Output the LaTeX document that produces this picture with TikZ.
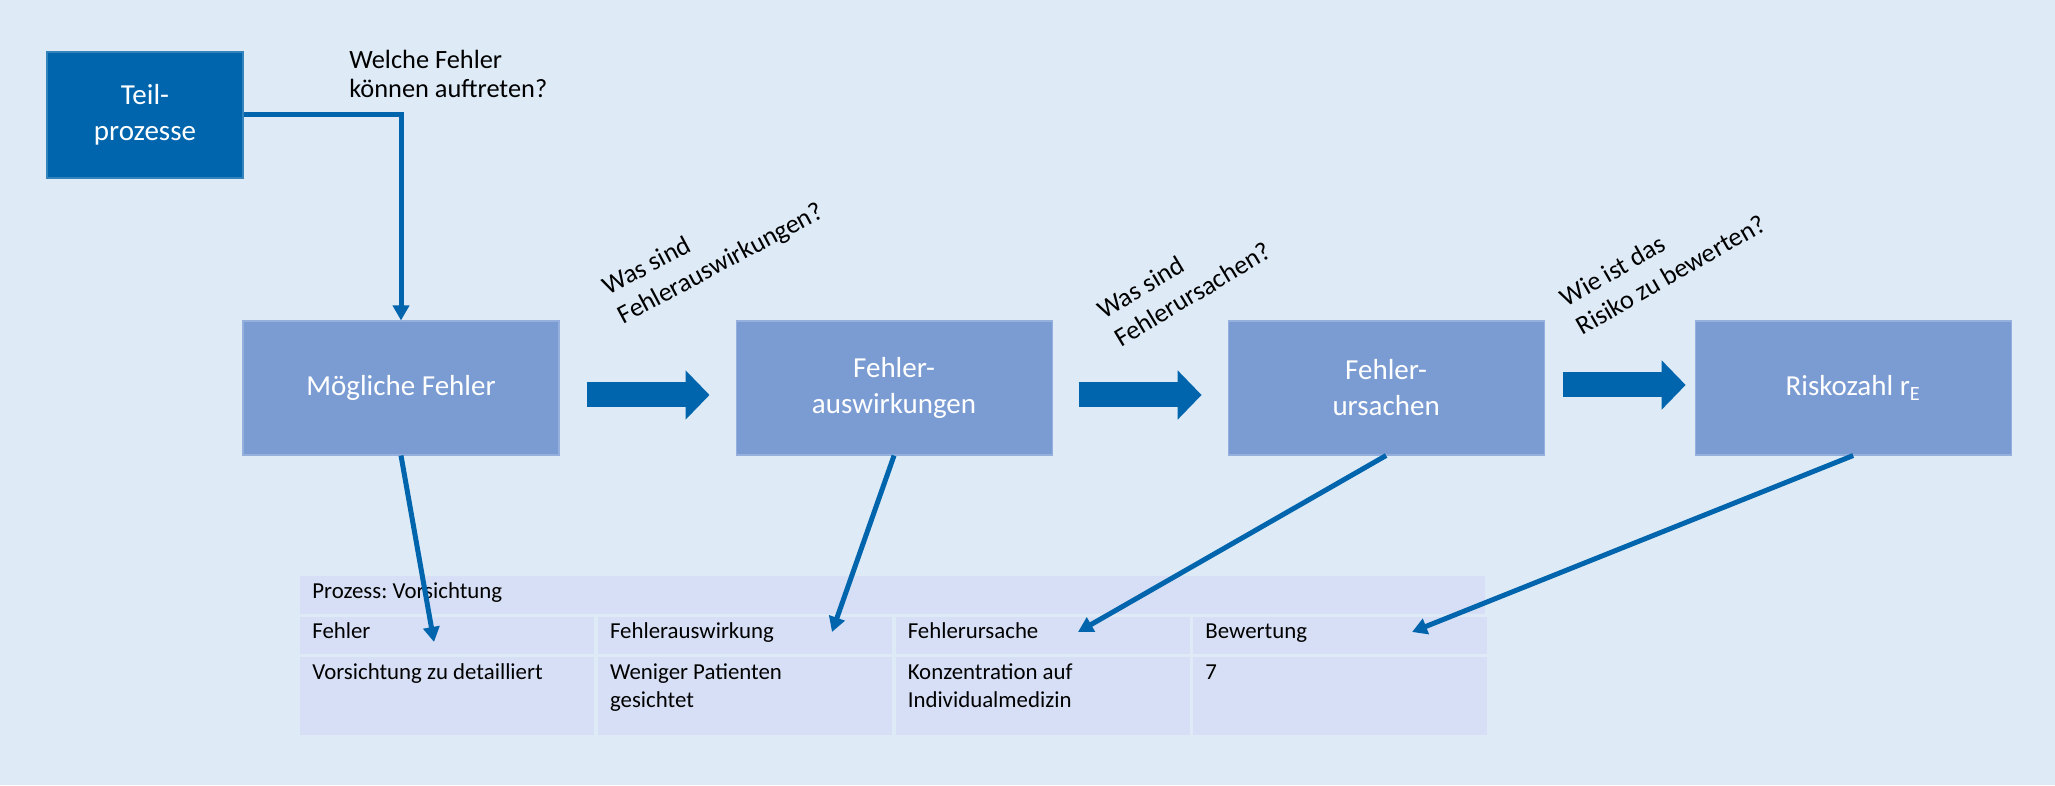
\documentclass[tikz,border=0pt]{standalone}
\usepackage{fontspec}
\setmainfont{Carlito}
\usetikzlibrary{positioning, calc, arrows.meta}

\definecolor{bgblue}{RGB}{222,235,247}
\definecolor{boxblue}{RGB}{123,156,211}
\definecolor{darkblue}{RGB}{0,101,173}
\definecolor{cellblue}{RGB}{214,223,245}

\tikzset{
  stepbox/.style={fill=boxblue, draw=boxblue!80!white, line width=0.6pt, text=white,
    minimum width=6.32cm, minimum height=2.68cm, align=center,
    font=\fontsize{16.5}{20.5}\selectfont},
  startbox/.style={fill=darkblue, draw=darkblue!80!white, line width=0.6pt, text=white,
    minimum width=3.92cm, minimum height=2.52cm, align=center,
    font=\fontsize{16.5}{20.5}\selectfont},
  question/.style={inner sep=0pt, align=left, font=\fontsize{15}{18.5}\selectfont},
  flow/.style={draw=darkblue, line width=0.1cm, -{Triangle[width=0.32cm,length=0.3cm]}},
  bigarrow/.style={draw=darkblue, line width=0.5cm, -{Triangle[width=0.96cm,length=0.48cm]}},
  cell/.style={fill=cellblue, inner sep=0pt, minimum width=5.88cm},
  celltext/.style={anchor=base west, inner sep=0pt, align=left,
    font=\fontsize{13}{16}\selectfont}
}

\begin{document}
\frenchspacing
\begin{tikzpicture}
% background
\fill[bgblue] (0,0) rectangle (41.1,15.7);
\useasboundingbox (0,0) rectangle (41.1,15.7);

% process chain
\node[startbox] (teil) at (2.90,13.40) {Teil-\\prozesse};
\node[stepbox] (moegl) at (8.02,7.94) {Mögliche Fehler};
\node[stepbox, right=3.52cm of moegl] (ausw) {Fehler-\\auswirkungen};
\node[stepbox, right=3.50cm of ausw] (urs) {Fehler-\\ursachen};
\node[stepbox, right=3.00cm of urs] (risk) {Riskozahl r\textsubscript{E}};

\draw[flow] (teil.east) -| (moegl.north);
\node[question, anchor=west, font=\fontsize{15}{16.5}\selectfont] (q0) at (6.98,14.22) {Welche Fehler\\können auftreten?};

\draw[bigarrow, shorten <=0.54cm, shorten >=0.52cm] ([yshift=-0.14cm]moegl.east) -- ([yshift=-0.14cm]ausw.west);
\draw[bigarrow, shorten <=0.52cm, shorten >=0.52cm] ([yshift=-0.14cm]ausw.east) -- ([yshift=-0.14cm]urs.west);
\draw[bigarrow, shorten <=0.36cm, shorten >=0.18cm] ([yshift=0.06cm]urs.east) -- ([yshift=0.06cm]risk.west);

\node[question, rotate=28, anchor=west] (q1) at (12.25,9.62) {Was sind\\Fehlerauswirkungen?};
\node[question, rotate=31, anchor=west] (q2) at (22.16,9.18) {Was sind\\Fehlerursachen?};
\node[question, rotate=30, anchor=west] (q3) at (31.40,9.42) {Wie ist das\\Risiko zu bewerten?};

% table
\node[cell, anchor=north west, minimum width=23.70cm, minimum height=0.76cm] (kopf) at (6.00,4.18) {};
\node[cell, anchor=north west, minimum height=0.74cm] (c21) at (6.00,3.36) {};
\node[cell, minimum height=0.74cm, right=0.06cm of c21] (c22) {};
\node[cell, minimum height=0.74cm, right=0.06cm of c22] (c23) {};
\node[cell, minimum height=0.74cm, right=0.06cm of c23] (c24) {};
\node[cell, anchor=north west, minimum height=1.56cm] (c31) at (6.00,2.56) {};
\node[cell, minimum height=1.56cm, right=0.06cm of c31] (c32) {};
\node[cell, minimum height=1.56cm, right=0.06cm of c32] (c33) {};
\node[cell, minimum height=1.56cm, right=0.06cm of c33] (c34) {};

\node[celltext] at ($(kopf.north west)+(0.24,-0.46)$) {Prozess: Vorsichtung};
\node[celltext] at ($(c21.north west)+(0.24,-0.44)$) {Fehler};
\node[celltext] at ($(c22.north west)+(0.24,-0.44)$) {Fehlerauswirkung};
\node[celltext] at ($(c23.north west)+(0.24,-0.44)$) {Fehlerursache};
\node[celltext] at ($(c24.north west)+(0.24,-0.44)$) {Bewertung};
% base of a two-line cell is its last line
\node[celltext] at ($(c31.north west)+(0.24,-0.46)$) {Vorsichtung zu detailliert};
\node[celltext] at ($(c32.north west)+(0.24,-1.02)$) {Weniger Patienten\\gesichtet};
\node[celltext] at ($(c33.north west)+(0.24,-1.02)$) {Konzentration auf\\Individualmedizin};
\node[celltext] at ($(c34.north west)+(0.24,-0.46)$) {7};

% links into the table
\coordinate (t1) at (8.68,2.86);
\coordinate (t2) at (16.64,3.06);
\coordinate (t3) at (21.56,3.06);
\coordinate (t4) at (28.24,3.06);
\draw[flow] (moegl.south) -- (t1);
\draw[flow] (ausw.south) -- (t2);
\draw[flow] (urs.south) -- (t3);
\draw[flow] (risk.south) -- (t4);
\end{tikzpicture}
\end{document}
